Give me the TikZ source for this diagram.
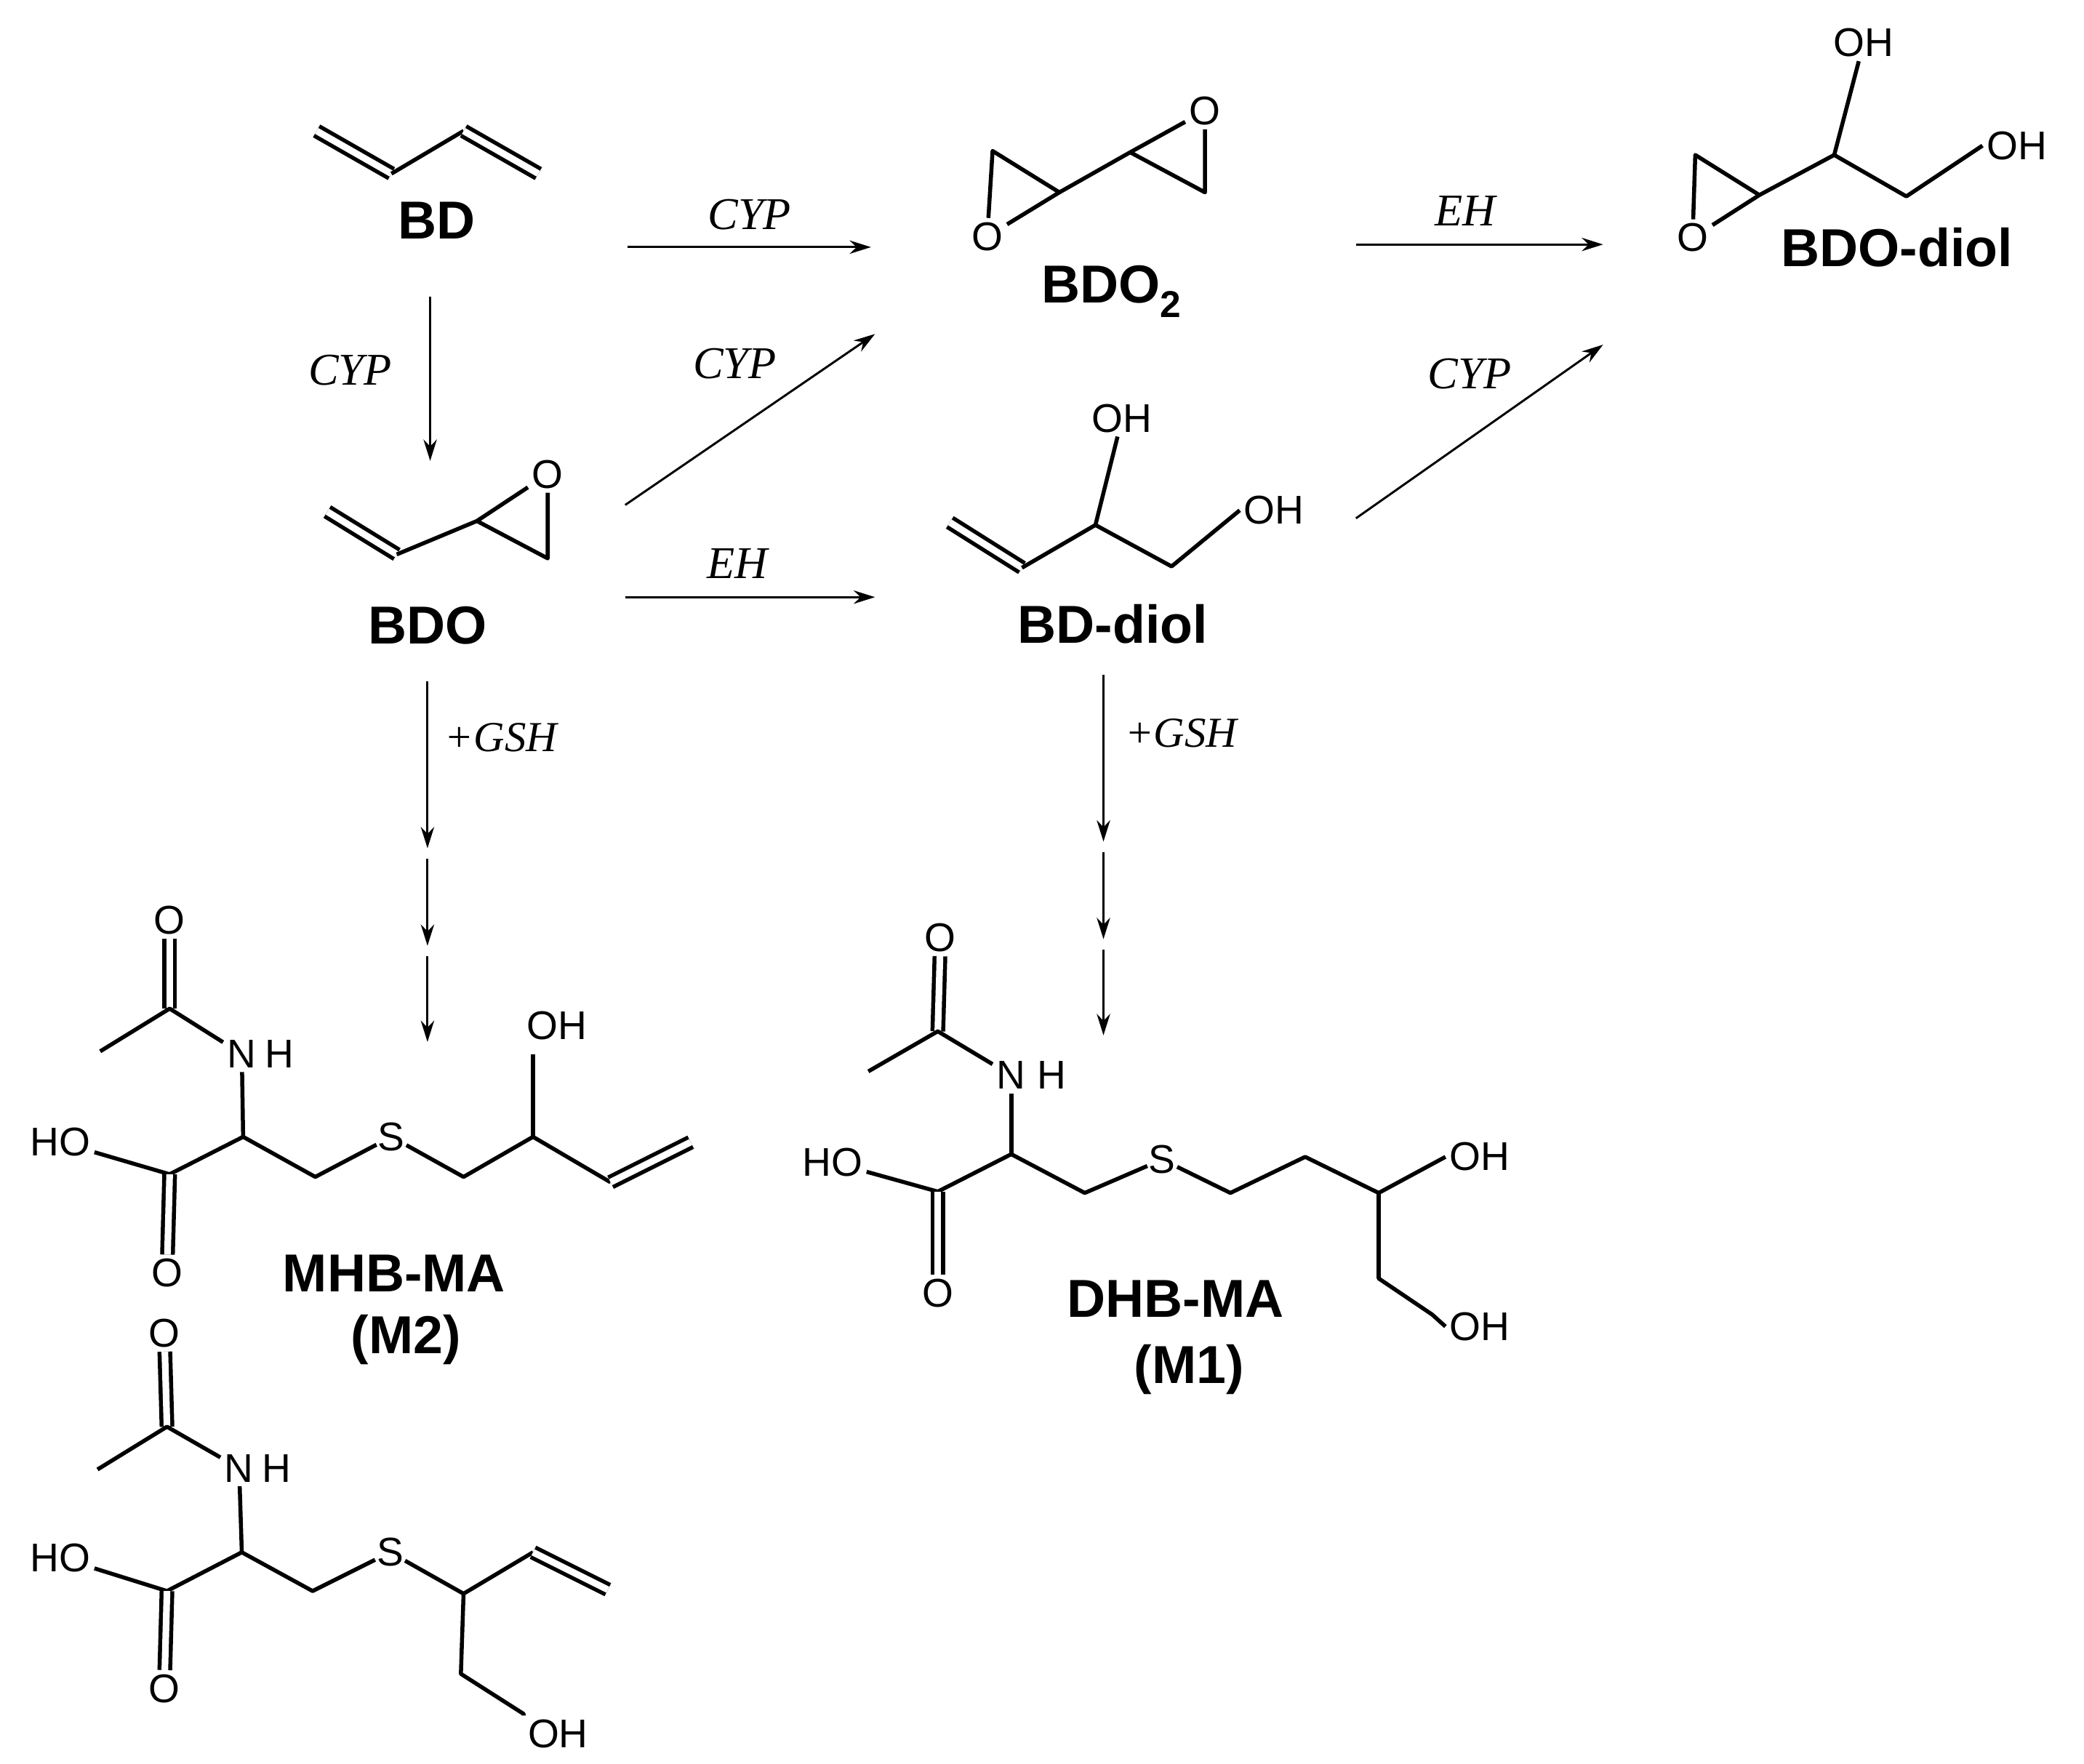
\documentclass[tikz,border=0pt]{standalone}
\usepackage{fontspec}
\setmainfont{Liberation Sans}
\newfontfamily\serifit{Liberation Serif}
\usetikzlibrary{arrows.meta}
\begin{document}
\begin{tikzpicture}[x=1pt,y=-1pt,
  bond/.style={line width=3pt,line join=round},
  dbl/.style={line width=3pt,double,double distance=5pt},
  atom/.style={font=\fontsize{30}{30}\selectfont,inner sep=3pt},
  mol/.style={font=\fontsize{40}{40}\selectfont\bfseries,inner sep=0pt},
  rx/.style={line width=1.6pt,-{Stealth[length=16pt,width=10pt]}},
  enz/.style={font=\fontsize{34}{34}\selectfont\serifit\itshape,inner sep=0pt}]
\useasboundingbox (0,0) rectangle (1560,1320);
% BD
\coordinate (bd1) at (237,98); \coordinate (bd2) at (293,130);
\coordinate (bd3) at (347,98); \coordinate (bd4) at (403,130);
\draw[dbl] (bd1)--(bd2); \draw[bond] (bd2)--(bd3); \draw[dbl] (bd3)--(bd4);
\node[mol] (BD) at (327,165) {BD};
% BDO
\coordinate (o1) at (245,383); \coordinate (o2) at (297,415);
\coordinate (o3) at (357,390); \coordinate (o4) at (410,418);
\node[atom] (oO) at (410,355) {O};
\draw[dbl] (o1)--(o2); \draw[bond] (o2)--(o3)--(o4)--(oO)--(o3);
\node[mol] (BDO) at (320,468) {BDO};
% BDO2
\coordinate (e1) at (743,113); \coordinate (e2) at (793,144);
\node[atom] (eO1) at (739,177) {O};
\coordinate (e3) at (846,114); \coordinate (e4) at (902,144);
\node[atom] (eO2) at (902,83) {O};
\draw[bond] (eO1)--(e1)--(e2)--(eO1); \draw[bond] (e2)--(e3);
\draw[bond] (e3)--(eO2)--(e4)--(e3);
\node[mol] (BDO2) at (832,218) {BDO\textsubscript{2}};
% BDO-diol
\node[atom] (dO) at (1267,178) {O};
\coordinate (d1) at (1269,116); \coordinate (d2) at (1317,146);
\coordinate (d3) at (1373,116); \coordinate (d4) at (1427,147);
\node[atom] (dOH1) at (1395,32) {OH};
\node[atom,anchor=west] (dOH2) at (1484,109) {OH};
\draw[bond] (dO)--(d1)--(d2)--(dO); \draw[bond] (d2)--(d3)--(d4)--(dOH2.west);
\draw[bond] (d3)--(dOH1);
\node[mol] (BDOdiol) at (1420,185) {BDO-diol};
% BD-diol
\coordinate (b1) at (711,391); \coordinate (b2) at (765,425);
\coordinate (b3) at (820,393); \coordinate (b4) at (877,424);
\node[atom] (bOH1) at (840,313) {OH};
\node[atom,anchor=west] (bOH2) at (928,382) {OH};
\draw[dbl] (b1)--(b2); \draw[bond] (b2)--(b3)--(b4)--(bOH2.west);
\draw[bond] (b3)--(bOH1);
\node[mol] (BDdiol) at (833,467) {BD-diol};
% arrows
\coordinate (a1s) at (470,185); \coordinate (a1e) at (652,185);
\draw[rx] (a1s)--(a1e) node[enz,midway,above=12pt] (l1) {CYP};
\coordinate (a2s) at (322,222); \coordinate (a2e) at (322,345);
\draw[rx] (a2s)--(a2e); \node[enz] (l2) at (262,277) {CYP};
\coordinate (a3s) at (468,378); \coordinate (a3e) at (655,250);
\draw[rx] (a3s)--(a3e); \node[enz] (l3) at (550,272) {CYP};
\coordinate (a4s) at (468,447); \coordinate (a4e) at (655,447);
\draw[rx] (a4s)--(a4e); \node[enz] (l4) at (552,422) {EH};
\coordinate (a5s) at (1015,183); \coordinate (a5e) at (1200,183);
\draw[rx] (a5s)--(a5e); \node[enz] (l5) at (1097,158) {EH};
\coordinate (a6s) at (1015,388); \coordinate (a6e) at (1200,258);
\draw[rx] (a6s)--(a6e); \node[enz] (l6) at (1100,280) {CYP};
% GSH arrows
\foreach \x/\t/\n in {320/510/L,826/505/R}{
  \coordinate (g1\n) at (\x,\t); \coordinate (g2\n) at (\x,\t+125);
  \coordinate (g3\n) at (\x,\t+133); \coordinate (g4\n) at (\x,\t+198);
  \coordinate (g5\n) at (\x,\t+206); \coordinate (g6\n) at (\x,\t+270);
  \draw[rx] (g1\n)--(g2\n); \draw[rx] (g3\n)--(g4\n); \draw[rx] (g5\n)--(g6\n);
}
\node[enz,font=\fontsize{32}{32}\selectfont\serifit\itshape] (gl) at (375,552) {+GSH};
\node[enz,font=\fontsize{32}{32}\selectfont\serifit\itshape] (gr) at (884,549) {+GSH};
% MHB-MA
\node[atom] (mO1) at (127,689) {O}; \coordinate (mc1) at (127,755);
\coordinate (mme) at (75,787); \node[atom] (mN) at (181,789) {N};
\node[atom,anchor=west,inner sep=0pt] (mH) at (198,789) {H};
\coordinate (mca) at (182,851); \node[atom] (mHO) at (45,855) {HO};
\coordinate (mcc) at (127,879); \node[atom] (mO2) at (125,953) {O};
\coordinate (mch) at (236,881); \node[atom,inner sep=1pt] (mS) at (293,851) {S};
\coordinate (mc2) at (347,881); \coordinate (mc3) at (399,851);
\node[atom] (mOH) at (417,768) {OH}; \coordinate (mc4) at (457,885); \coordinate (mc5) at (517,855);
\draw[dbl] (mO1)--(mc1); \draw[bond] (mme)--(mc1)--(mN); \draw[bond] (mN)--(mca);
\draw[bond] (mHO)--(mcc)--(mca)--(mch)--(mS)--(mc2)--(mc3)--(mc4);
\draw[dbl] (mcc)--(mO2); \draw[bond] (mc3)--(399,789); \draw[dbl] (mc4)--(mc5);
\node[mol] (MHB) at (295,953) {MHB-MA};
\node[mol] (M2) at (304,1003) {(M2)};
% bottom isomer
\node[atom] (nO1) at (123,998) {O}; \coordinate (nc1) at (125,1068);
\coordinate (nme) at (73,1100); \node[atom] (nN) at (179,1099) {N};
\node[atom,anchor=west,inner sep=0pt] (nH) at (196,1099) {H};
\coordinate (nca) at (181,1162); \node[atom] (nHO) at (45,1166) {HO};
\coordinate (ncc) at (125,1191); \node[atom] (nO2) at (123,1264) {O};
\coordinate (nch) at (234,1191); \node[atom,inner sep=1pt] (nS) at (292,1162) {S};
\coordinate (nc2) at (347,1193); \coordinate (nc3) at (399,1162); \coordinate (nc4) at (455,1190);
\coordinate (nc5) at (345,1253); \coordinate (nc6) at (392,1283);
\node[atom,anchor=west] (nOH) at (392,1298) {OH};
\draw[dbl] (nO1)--(nc1); \draw[bond] (nme)--(nc1)--(nN); \draw[bond] (nN)--(nca);
\draw[bond] (nHO)--(ncc)--(nca)--(nch)--(nS)--(nc2)--(nc3);
\draw[dbl] (nc3)--(nc4); \draw[dbl] (ncc)--(nO2);
\draw[bond] (nc2)--(nc5)--(nc6)--(nOH.north west);
% DHB-MA
\node[atom] (kO1) at (704,702) {O}; \coordinate (kc1) at (702,772);
\coordinate (kme) at (650,802); \node[atom] (kN) at (757,805) {N};
\node[atom,anchor=west,inner sep=0pt] (kH) at (776,805) {H};
\coordinate (kca) at (757,864); \node[atom] (kHO) at (623,870) {HO};
\coordinate (kcc) at (702,892); \node[atom] (kO2) at (702,968) {O};
\coordinate (kch) at (812,893); \node[atom,inner sep=1pt] (kS) at (870,868) {S};
\coordinate (kc2) at (921,893); \coordinate (kc3) at (977,866); \coordinate (kc4) at (1032,893);
\node[atom,anchor=west] (kOH1) at (1082,866) {OH};
\coordinate (kc5) at (1032,957); \coordinate (kc6) at (1072,984);
\node[atom,anchor=west] (kOH2) at (1082,993) {OH};
\draw[dbl] (kO1)--(kc1); \draw[bond] (kme)--(kc1)--(kN); \draw[bond] (kN)--(kca);
\draw[bond] (kHO)--(kcc)--(kca)--(kch)--(kS)--(kc2)--(kc3)--(kc4)--(kOH1.west);
\draw[dbl] (kcc)--(kO2); \draw[bond] (kc4)--(kc5)--(kc6)--(kOH2.west);
\node[mol] (DHB) at (880,972) {DHB-MA};
\node[mol] (M1) at (890,1025) {(M1)};
\end{tikzpicture}
\end{document}
